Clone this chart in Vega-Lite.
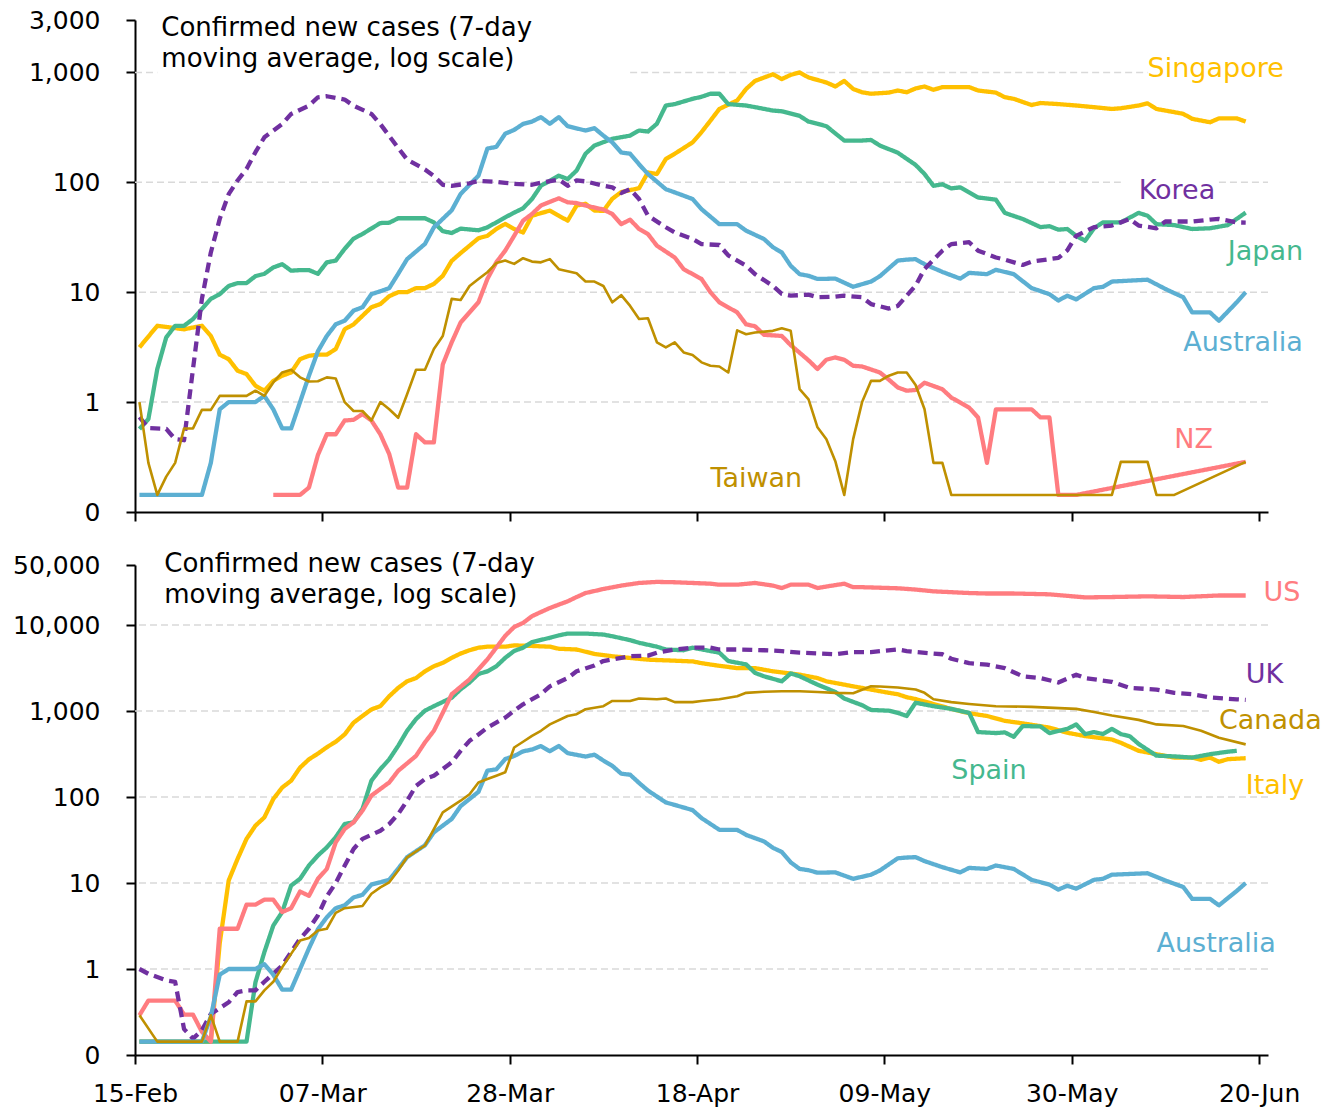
{
"$schema": "https://vega.github.io/schema/vega-lite/v6.json",
"padding": {"left": 12, "top": 8, "right": 5, "bottom": 5},
"background": "white",
"spacing": 53,
"bounds": "flush",
"config": {
 "view": {"stroke": null},
 "font": "DejaVu Sans",
 "axis": {"domainColor": "#000", "domainWidth": 2, "tickColor": "#000", "tickWidth": 2, "tickSize": 9, "labelFont": "DejaVu Sans", "labelFontSize": 25, "labelColor": "#000", "grid": false, "labelFlush": false, "labelOverlap": false, "labelBound": false},
 "axisY": {"labelPadding": 26},
 "axisX": {"labelPadding": 17},
 "line": {"strokeJoin": "round", "strokeCap": "butt"}
},
"datasets": {
 "cases": [
{"d":"2020-02-15","SG":3.15,"JP":0.57,"AU":0.143,"TW":1,"KR":0.73,"US":0.29,"UK":1,"CA":0.29,"IT":0.143,"ES":0.143},
{"d":"2020-02-16","JP":0.7,"TW":0.28,"KR":0.58,"US":0.43,"UK":0.88},
{"d":"2020-02-17","SG":4.95,"JP":2,"TW":0.143,"CA":0.143},
{"d":"2020-02-18","JP":3.88,"TW":0.21,"KR":0.57,"UK":0.74},
{"d":"2020-02-19","JP":4.95,"TW":0.28,"KR":0.46,"US":0.43,"UK":0.71},
{"d":"2020-02-20","SG":4.6,"JP":4.95,"TW":0.576,"KR":0.45,"US":0.295,"UK":0.2},
{"d":"2020-02-21","JP":5.7,"TW":0.576,"KR":2,"US":0.295,"UK":0.155},
{"d":"2020-02-22","SG":4.95,"AU":0.143,"TW":0.85,"KR":8.7,"US":0.186,"UK":0.194,"CA":0.143},
{"d":"2020-02-23","SG":4,"JP":8.7,"AU":0.28,"TW":0.85,"KR":23,"US":0.143,"UK":0.3,"CA":0.29,"IT":0.143},
{"d":"2020-02-24","SG":2.7,"JP":9.6,"AU":0.86,"TW":1.14,"KR":46.5,"US":2.94,"CA":0.143,"IT":2},
{"d":"2020-02-25","SG":2.46,"JP":11.4,"AU":1,"KR":78,"UK":0.41,"IT":10.7},
{"d":"2020-02-26","SG":1.93,"JP":12.1,"KR":104,"US":2.94,"UK":0.54,"CA":0.143,"IT":19.1},
{"d":"2020-02-27","SG":1.8,"JP":12.1,"TW":1.14,"KR":132,"US":5.6,"UK":0.565,"CA":0.42,"IT":32.6,"ES":0.143},
{"d":"2020-02-28","SG":1.41,"JP":14,"AU":1,"TW":1.27,"KR":188,"US":5.6,"UK":0.565,"CA":0.42,"IT":46.5,"ES":0.7},
{"d":"2020-02-29","SG":1.27,"JP":14.7,"AU":1.14,"TW":1.14,"KR":257,"US":6.4,"UK":0.71,"CA":0.565,"IT":58,"ES":1.57},
{"d":"2020-03-01","SG":1.56,"JP":16.8,"AU":0.86,"NZ":0.143,"TW":1.51,"US":6.4,"CA":0.71,"IT":94.8,"ES":3.2},
{"d":"2020-03-02","SG":1.74,"JP":18,"AU":0.576,"TW":1.86,"KR":339,"US":4.6,"UK":1.1,"CA":1.05,"IT":129,"ES":4.6},
{"d":"2020-03-03","SG":1.86,"JP":15.7,"AU":0.576,"TW":1.97,"KR":419,"US":5.1,"UK":1.57,"CA":1.5,"IT":155,"ES":9.35},
{"d":"2020-03-04","SG":2.46,"JP":15.9,"AU":1,"NZ":0.143,"TW":1.68,"US":7.96,"UK":2.25,"CA":2.15,"IT":220,"ES":11.2},
{"d":"2020-03-05","SG":2.64,"JP":15.9,"AU":1.74,"NZ":0.167,"TW":1.54,"KR":498,"US":7.1,"UK":2.94,"CA":2.29,"IT":275,"ES":16},
{"d":"2020-03-06","SG":2.7,"JP":14.7,"AU":2.9,"NZ":0.33,"TW":1.55,"KR":594,"US":11.2,"UK":4.2,"CA":2.81,"IT":320,"ES":20.9},
{"d":"2020-03-07","SG":2.7,"JP":18.7,"AU":4,"NZ":0.51,"TW":1.68,"KR":607,"US":14.6,"UK":7,"CA":2.94,"IT":380,"ES":26},
{"d":"2020-03-08","SG":3.04,"JP":19.4,"AU":5.1,"NZ":0.51,"TW":1.64,"US":29.7,"UK":10,"CA":4.5,"IT":440,"ES":34.1},
{"d":"2020-03-09","SG":4.6,"JP":24.8,"AU":5.5,"NZ":0.68,"TW":1,"KR":566,"US":42.5,"UK":15.9,"CA":5.1,"IT":535,"ES":48.6},
{"d":"2020-03-10","SG":5.1,"JP":30.7,"AU":6.8,"NZ":0.69,"TW":0.83,"KR":498,"US":50.9,"UK":24.9,"IT":733,"ES":50.9},
{"d":"2020-03-11","SG":6.1,"JP":33.9,"AU":7.3,"NZ":0.78,"TW":0.83,"US":69.5,"UK":32.6,"CA":5.4,"IT":877,"ES":72.8},
{"d":"2020-03-12","SG":7.3,"AU":9.6,"NZ":0.68,"TW":0.68,"KR":419,"US":104,"CA":7.5,"IT":1046,"ES":155},
{"d":"2020-03-13","SG":7.8,"JP":42.6,"AU":10.2,"NZ":0.51,"TW":1,"KR":339,"UK":40.6,"CA":8.9,"IT":1140,"ES":211},
{"d":"2020-03-14","SG":9.2,"JP":42.9,"AU":10.9,"NZ":0.336,"TW":0.86,"KR":264,"US":148,"UK":48.6,"CA":10.2,"IT":1490,"ES":275},
{"d":"2020-03-15","SG":10,"JP":47.1,"AU":14.7,"NZ":0.167,"TW":0.72,"KR":206,"US":202,"UK":63.4,"CA":14,"IT":1860,"ES":394},
{"d":"2020-03-16","SG":10,"AU":20,"NZ":0.167,"TW":1.18,"KR":161,"UK":90.7,"CA":19.9,"IT":2220,"ES":590},
{"d":"2020-03-17","SG":10.9,"JP":47.1,"NZ":0.51,"TW":1.97,"US":301,"UK":135,"IT":2420,"ES":806},
{"d":"2020-03-18","SG":10.9,"JP":47.1,"AU":27.5,"NZ":0.43,"TW":1.97,"KR":131,"US":432,"UK":162,"CA":27.3,"IT":2900,"ES":1010},
{"d":"2020-03-19","SG":11.9,"JP":43.2,"AU":38.9,"NZ":0.43,"TW":3.04,"KR":114,"US":590,"UK":177,"CA":42.5,"IT":3320,"ES":1140},
{"d":"2020-03-20","SG":14.1,"JP":35.9,"NZ":2.2,"TW":4,"KR":95,"US":956,"CA":66.4,"IT":3640},
{"d":"2020-03-21","SG":19.3,"JP":34.6,"AU":55.6,"NZ":3.5,"TW":8.7,"KR":93,"US":1570,"UK":253,"IT":4160,"ES":1430},
{"d":"2020-03-22","SG":22.7,"JP":37.9,"AU":78.4,"NZ":5.3,"TW":8.5,"UK":345,"CA":90.7,"IT":4670,"ES":1790},
{"d":"2020-03-23","SG":26.5,"TW":11.4,"KR":98,"US":2340,"UK":451,"CA":108,"IT":5100,"ES":2150},
{"d":"2020-03-24","SG":31,"JP":36.6,"AU":115,"NZ":8.1,"TW":13.2,"KR":103,"US":3060,"UK":535,"CA":148,"IT":5460,"ES":2700},
{"d":"2020-03-25","SG":32.6,"JP":38.9,"AU":203,"NZ":13.2,"TW":15.2,"US":3990,"UK":642,"CA":162,"IT":5610,"ES":2900},
{"d":"2020-03-26","SG":37.6,"JP":43.2,"AU":210,"NZ":18.7,"TW":18.4,"KR":101,"US":5460,"CA":177,"ES":3320},
{"d":"2020-03-27","SG":41.8,"JP":48,"AU":277,"NZ":23.9,"TW":19.4,"KR":99,"US":7500,"UK":840,"CA":194,"IT":5610,"ES":4160},
{"d":"2020-03-28","SG":37.6,"JP":53,"AU":300,"NZ":32.6,"TW":18.1,"KR":97,"US":9500,"UK":1010,"CA":377,"IT":5810,"ES":5000},
{"d":"2020-03-29","SG":35,"JP":58,"AU":340,"NZ":44.8,"TW":20.4,"US":10600,"UK":1200,"CA":440,"ES":5460},
{"d":"2020-03-30","SG":49.7,"JP":70.5,"AU":357,"NZ":51.5,"TW":19,"KR":95,"US":12700,"CA":515,"IT":5720,"ES":6340},
{"d":"2020-03-31","JP":93,"AU":392,"NZ":61.5,"TW":18.7,"KR":99,"US":14200,"UK":1570,"CA":590},
{"d":"2020-04-01","SG":55.3,"AU":341,"TW":20,"US":15800,"UK":1940,"CA":700,"IT":5610,"ES":7120},
{"d":"2020-04-02","SG":49.7,"JP":115,"AU":392,"NZ":71.5,"TW":16.2,"KR":106,"US":17300,"IT":5310,"ES":7590},
{"d":"2020-04-03","SG":44.8,"JP":107,"AU":324,"NZ":65.8,"KR":93,"US":18900,"UK":2420,"CA":877,"ES":7970},
{"d":"2020-04-04","SG":61.5,"JP":128,"NZ":64.8,"TW":14.9,"KR":104,"US":21200,"UK":2900,"CA":920,"IT":5200},
{"d":"2020-04-05","SG":63.8,"JP":182,"AU":296,"NZ":61.5,"TW":12.5,"KR":102,"US":23600,"CA":1050,"ES":7970},
{"d":"2020-04-06","SG":55.3,"JP":216,"AU":311,"TW":12.5,"UK":3390,"IT":4620},
{"d":"2020-04-07","SG":55,"AU":266,"NZ":56.5,"TW":11.4,"KR":93,"US":26300,"UK":3820,"CA":1140,"ES":7760},
{"d":"2020-04-08","SG":70.8,"JP":249,"AU":231,"NZ":51.5,"TW":8.1,"KR":90,"CA":1310,"IT":4340,"ES":7420},
{"d":"2020-04-09","SG":81.5,"AU":187,"NZ":41.6,"TW":9.4,"KR":80,"US":28800,"UK":4160},
{"d":"2020-04-10","JP":266,"AU":182,"NZ":45.7,"TW":7.5,"KR":86.6,"UK":4340,"CA":1310,"IT":4150,"ES":6680},
{"d":"2020-04-11","SG":88.4,"JP":296,"AU":146,"NZ":37.6,"TW":5.7,"KR":70.5,"US":30900,"CA":1400,"ES":6230},
{"d":"2020-04-12","SG":123,"JP":290,"AU":119,"NZ":33.8,"TW":5.8,"KR":49.7,"UK":4420,"IT":3960},
{"d":"2020-04-13","SG":119,"JP":341,"NZ":26.5,"TW":3.5,"US":31800,"UK":4780,"CA":1370,"ES":5610},
{"d":"2020-04-14","SG":163,"JP":500,"AU":86.6,"TW":3.15,"KR":39,"CA":1400,"IT":3890,"ES":5200},
{"d":"2020-04-15","SG":182,"JP":515,"AU":81,"NZ":20.7,"TW":3.5,"KR":35,"US":31500,"UK":5200,"CA":1270},
{"d":"2020-04-16","NZ":16.2,"TW":2.83,"ES":5100},
{"d":"2020-04-17","SG":231,"JP":575,"AU":70.5,"TW":2.68,"KR":30.5,"US":30900,"UK":5460,"CA":1270,"IT":3780,"ES":5460},
{"d":"2020-04-18","SG":286,"JP":600,"AU":57,"NZ":13.2,"TW":2.3,"KR":27.4,"CA":1310,"IT":3610},
{"d":"2020-04-19","SG":364,"JP":640,"NZ":10,"TW":2.14,"US":30300,"UK":5460,"ES":4990},
{"d":"2020-04-20","SG":465,"JP":640,"AU":41.6,"NZ":8.1,"TW":2.11,"KR":26.9,"US":29500,"UK":5200,"CA":1370,"IT":3360,"ES":4780},
{"d":"2020-04-21","JP":515,"TW":1.86,"KR":21.6,"ES":3820},
{"d":"2020-04-22","SG":556,"AU":41.6,"NZ":6.55,"TW":4.5,"US":29500,"UK":5200,"CA":1490,"IT":3160},
{"d":"2020-04-23","SG":707,"JP":500,"AU":36.3,"NZ":5.1,"TW":4.15,"KR":17.4,"CA":1630,"ES":3490},
{"d":"2020-04-24","SG":837,"JP":483,"NZ":4.9,"TW":4.3,"KR":14.6,"US":30900,"IT":3160,"ES":2780},
{"d":"2020-04-25","AU":30.5,"NZ":4.1,"UK":5100,"CA":1680,"ES":2540},
{"d":"2020-04-26","SG":962,"JP":450,"AU":25.7,"TW":4.45,"KR":11.4,"US":28800,"IT":2900},
{"d":"2020-04-27","SG":870,"JP":443,"AU":23,"NZ":4,"TW":4.7,"KR":9.65,"US":27000,"UK":4990,"CA":1700,"ES":2220},
{"d":"2020-04-28","SG":950,"AU":17.4,"NZ":3.3,"TW":4.45,"KR":9.3,"US":29500,"ES":2740},
{"d":"2020-04-29","SG":1000,"JP":402,"AU":14.6,"TW":1.31,"UK":4780,"CA":1700,"IT":2650,"ES":2540},
{"d":"2020-04-30","SG":900,"JP":357,"AU":14.1,"NZ":2.4,"TW":1.06,"KR":9.5,"US":29500},
{"d":"2020-05-01","JP":341,"AU":13.2,"NZ":2,"TW":0.59,"KR":9,"US":27000,"UK":4690,"CA":1670,"IT":2420,"ES":2030},
{"d":"2020-05-02","SG":810,"JP":324,"NZ":2.43,"TW":0.46,"US":28100,"IT":2220},
{"d":"2020-05-03","SG":745,"AU":13.3,"NZ":2.55,"TW":0.29,"KR":9.1,"UK":4580,"CA":1630,"ES":1670},
{"d":"2020-05-04","SG":837,"JP":240,"NZ":2.43,"TW":0.143,"KR":9.3,"US":30300,"IT":2030,"ES":1400},
{"d":"2020-05-05","SG":707,"AU":11.2,"NZ":2.14,"TW":0.46,"US":27600,"UK":4860,"CA":1610,"IT":1940},
{"d":"2020-05-06","SG":660,"JP":240,"NZ":2.11,"TW":1,"KR":9,"US":27600,"ES":1170},
{"d":"2020-05-07","SG":640,"JP":243,"AU":12.5,"TW":1.56,"KR":7.8,"UK":4860,"CA":1940,"IT":1780,"ES":1030},
{"d":"2020-05-08","JP":216,"AU":14,"NZ":1.86,"TW":1.56,"US":27200,"CA":1930},
{"d":"2020-05-09","SG":655,"AU":16.5,"NZ":1.6,"TW":1.74,"KR":7.1,"IT":1630,"ES":1010},
{"d":"2020-05-10","SG":685,"JP":186,"AU":19.4,"NZ":1.36,"TW":1.86,"KR":7.5,"US":26800,"UK":5200,"CA":1880,"IT":1570,"ES":954},
{"d":"2020-05-11","SG":660,"AU":19.8,"NZ":1.27,"TW":1.86,"KR":9.3,"UK":4990,"IT":1450,"ES":877},
{"d":"2020-05-12","SG":715,"JP":144,"AU":20,"NZ":1.29,"TW":1.43,"KR":11.5,"US":25900,"UK":4860,"CA":1780,"IT":1380,"ES":1250},
{"d":"2020-05-13","SG":745,"JP":119,"AU":18,"NZ":1.5,"TW":0.86,"KR":16.3,"CA":1630},
{"d":"2020-05-14","SG":695,"JP":93,"TW":0.28,"US":24700,"CA":1370,"IT":1210,"ES":1140},
{"d":"2020-05-15","SG":735,"JP":96,"AU":15.3,"NZ":1.31,"TW":0.28,"KR":23.9,"UK":4580},
{"d":"2020-05-16","JP":88,"NZ":1.1,"TW":0.143,"KR":27.4,"UK":4060,"CA":1270,"IT":1060,"ES":1060},
{"d":"2020-05-17","JP":90,"AU":13.3},
{"d":"2020-05-18","SG":735,"AU":15,"NZ":0.89,"KR":28.5,"US":23600,"UK":3610,"CA":1210,"IT":945,"ES":954},
{"d":"2020-05-19","SG":685,"JP":72.8,"NZ":0.725,"KR":23.9,"ES":570},
{"d":"2020-05-20","AU":14.6,"NZ":0.28,"US":23300,"UK":3470,"IT":877},
{"d":"2020-05-21","SG":655,"JP":69.5,"AU":16,"NZ":0.86,"KR":20.7,"CA":1140,"ES":555},
{"d":"2020-05-22","SG":595,"JP":52.7,"KR":19.8,"UK":3160,"IT":770,"ES":565},
{"d":"2020-05-23","SG":575,"AU":14.6,"US":23300,"ES":502},
{"d":"2020-05-24","JP":46.4,"KR":17.7,"UK":2540,"IT":720,"ES":670},
{"d":"2020-05-25","SG":505,"AU":10.9,"NZ":0.86,"KR":19,"CA":1120},
{"d":"2020-05-26","SG":527,"JP":39.1,"NZ":0.725,"UK":2420,"ES":662},
{"d":"2020-05-27","JP":39.9,"AU":9.6,"NZ":0.725,"KR":20,"US":22800,"IT":642,"ES":555},
{"d":"2020-05-28","SG":515,"JP":37.1,"AU":8.4,"NZ":0.143,"KR":20.5,"UK":2150},
{"d":"2020-05-29","JP":37.6,"AU":9.3,"KR":24,"IT":560,"ES":620},
{"d":"2020-05-30","SG":500,"JP":32.6,"AU":8.6,"NZ":0.143,"KR":32.6,"UK":2650,"CA":1060,"ES":700},
{"d":"2020-05-31","JP":29.4,"US":21000,"UK":2420,"IT":512,"ES":540},
{"d":"2020-06-01","SG":483,"JP":38.2,"AU":10.9,"KR":39.1,"CA":975,"ES":570},
{"d":"2020-06-02","JP":43.2,"AU":11.2,"ES":540},
{"d":"2020-06-03","SG":465,"AU":12.5,"TW":0.143,"KR":40.4,"US":21200,"UK":2190,"CA":890,"IT":467,"ES":620},
{"d":"2020-06-04","SG":472,"JP":43.2,"TW":0.286,"KR":43.2,"IT":428,"ES":540},
{"d":"2020-06-05","KR":46.4,"UK":1860,"ES":510},
{"d":"2020-06-06","SG":500,"JP":52.7,"KR":40.4,"CA":790,"IT":345,"ES":415},
{"d":"2020-06-07","SG":523,"JP":49.7,"AU":13,"TW":0.286,"US":21600},
{"d":"2020-06-08","SG":465,"JP":41.6,"TW":0.143,"KR":38.2,"UK":1780,"CA":700,"IT":315,"ES":303},
{"d":"2020-06-09","AU":10.7,"KR":44},
{"d":"2020-06-10","SG":435,"JP":40.8,"AU":9.8,"TW":0.143,"UK":1630,"IT":288,"ES":297},
{"d":"2020-06-11","SG":420,"AU":9,"US":21200,"CA":670},
{"d":"2020-06-12","SG":378,"JP":37.6,"AU":6.55,"KR":44,"UK":1570,"IT":288,"ES":288},
{"d":"2020-06-13","CA":590,"IT":271},
{"d":"2020-06-14","SG":352,"JP":38.2,"AU":6.55,"KR":45.8,"UK":1440,"IT":288,"ES":315},
{"d":"2020-06-15","SG":382,"AU":5.5,"KR":46.4,"US":22100,"CA":490,"IT":257},
{"d":"2020-06-16","JP":40.8,"IT":276,"ES":337},
{"d":"2020-06-17","SG":382,"AU":8.1,"KR":43.2,"UK":1370,"ES":345},
{"d":"2020-06-18","SG":357,"JP":53,"AU":10,"NZ":0.286,"TW":0.286,"KR":43,"US":22100,"UK":1350,"CA":410,"IT":283}
 ],
 "gridTopFull": [{"v": 1}, {"v": 10}],
 "gridTopPart": [
  {"v": 100, "a": "2020-02-14T12:00:00Z", "b": "2020-06-04"},
  {"v": 100, "a": "2020-06-15", "b": "2020-06-20T12:00:00Z"},
  {"v": 1000, "a": "2020-02-14T12:00:00Z", "b": "2020-02-17"},
  {"v": 1000, "a": "2020-04-10", "b": "2020-06-07"}
 ],
 "gridBotFull": [{"v": 1}, {"v": 10}, {"v": 100}, {"v": 10000}],
 "gridBotPart": [{"v": 1000, "a": "2020-02-14T12:00:00Z", "b": "2020-06-14"}],
 "labelsTop": [
  {"c": "SG", "name": "Singapore", "d": "2020-06-07", "v": 1065},
  {"c": "KR", "name": "Korea", "d": "2020-06-06", "v": 82.8},
  {"c": "JP", "name": "Japan", "d": "2020-06-16", "v": 23.1},
  {"c": "AU", "name": "Australia", "d": "2020-06-11", "v": 3.44},
  {"c": "NZ", "name": "NZ", "d": "2020-06-10", "v": 0.451},
  {"c": "TW", "name": "Taiwan", "d": "2020-04-19", "v": 0.2}
 ],
 "labelsBot": [
  {"c": "US", "name": "US", "d": "2020-06-20", "v": 23560},
  {"c": "UK", "name": "UK", "d": "2020-06-18", "v": 2622},
  {"c": "CA", "name": "Canada", "d": "2020-06-15", "v": 765},
  {"c": "ES", "name": "Spain", "d": "2020-05-16", "v": 200},
  {"c": "IT", "name": "Italy", "d": "2020-06-18", "v": 134},
  {"c": "AU", "name": "Australia", "d": "2020-06-08", "v": 1.95}
 ],
 "titleTop": [{"d": "2020-02-17", "v": 2125, "t": "Confirmed new cases (7-day\nmoving average, log scale)"}],
 "titleBot": [{"d": "2020-02-18", "v": 41300, "t": "Confirmed new cases (7-day\nmoving average, log scale)"}]
},
"vconcat": [
 {
  "width": 1133,
  "height": 492,
  "layer": [
   {
    "data": {"name": "gridTopFull"},
    "mark": {"type": "rule", "color": "#D9D9D9", "strokeWidth": 1.5, "strokeDash": [7, 4]},
    "encoding": {"y": {"field": "v", "type": "quantitative", "title": null, "scale": {"type": "log", "domain": [0.1, 3000], "nice": false}}}
   },
   {
    "data": {"name": "gridTopPart"},
    "mark": {"type": "rule", "color": "#D9D9D9", "strokeWidth": 1.5, "strokeDash": [7, 4]},
    "encoding": {
     "x": {"field": "a", "type": "temporal", "title": null, "scale": {"type": "utc", "domain": [{"year": 2020, "month": 2, "date": 14, "hours": 12, "utc": true}, {"year": 2020, "month": 6, "date": 20, "hours": 12, "utc": true}]}},
     "x2": {"field": "b"},
     "y": {"field": "v", "type": "quantitative", "title": null, "scale": {"type": "log", "domain": [0.1, 3000], "nice": false}}
    }
   },
   {
    "data": {"name": "cases"},
    "transform": [{"fold": ["SG", "JP", "AU", "NZ", "KR"], "as": ["c", "v"]}, {"filter": "isValid(datum.v)"}],
    "mark": {"type": "line", "strokeWidth": 4.3},
    "encoding": {
     "x": {"field": "d", "type": "temporal", "title": null, "scale": {"type": "utc", "domain": [{"year": 2020, "month": 2, "date": 14, "hours": 12, "utc": true}, {"year": 2020, "month": 6, "date": 20, "hours": 12, "utc": true}]},
      "axis": {"labels": false, "values": [{"year": 2020, "month": 2, "date": 14, "hours": 12, "utc": true}, {"year": 2020, "month": 3, "date": 6, "hours": 12, "utc": true}, {"year": 2020, "month": 3, "date": 27, "hours": 12, "utc": true}, {"year": 2020, "month": 4, "date": 17, "hours": 12, "utc": true}, {"year": 2020, "month": 5, "date": 8, "hours": 12, "utc": true}, {"year": 2020, "month": 5, "date": 29, "hours": 12, "utc": true}, {"year": 2020, "month": 6, "date": 19, "hours": 12, "utc": true}]}},
     "y": {"field": "v", "type": "quantitative", "title": null, "scale": {"type": "log", "domain": [0.1, 3000], "nice": false},
      "axis": {"values": [0.1, 1, 10, 100, 1000, 3000], "labelExpr": "datum.value < 0.5 ? '0' : format(datum.value, ',')"}},
     "color": {"field": "c", "type": "nominal", "legend": null, "scale": {"domain": ["SG", "JP", "AU", "NZ", "TW", "KR", "US", "UK", "CA", "IT", "ES"], "range": ["#FFC000", "#45B88E", "#5CAFD2", "#FF7C80", "#BF9000", "#7030A0", "#FF7C80", "#7030A0", "#BF9000", "#FFC000", "#45B88E"]}},
     "strokeDash": {"field": "c", "type": "nominal", "legend": null, "scale": {"domain": ["SG", "JP", "AU", "NZ", "TW", "KR", "US", "UK", "CA", "IT", "ES"], "range": [[1, 0], [1, 0], [1, 0], [1, 0], [1, 0], [10, 6], [1, 0], [10, 6], [1, 0], [1, 0], [1, 0]]}}
    }
   },
   {
    "data": {"name": "cases"},
    "transform": [{"fold": ["TW"], "as": ["c", "v"]}, {"filter": "isValid(datum.v)"}],
    "mark": {"type": "line", "strokeWidth": 2.6},
    "encoding": {
     "x": {"field": "d", "type": "temporal", "title": null, "scale": {"type": "utc", "domain": [{"year": 2020, "month": 2, "date": 14, "hours": 12, "utc": true}, {"year": 2020, "month": 6, "date": 20, "hours": 12, "utc": true}]}},
     "y": {"field": "v", "type": "quantitative", "title": null, "scale": {"type": "log", "domain": [0.1, 3000], "nice": false}},
     "color": {"field": "c", "type": "nominal", "legend": null, "scale": {"domain": ["SG", "JP", "AU", "NZ", "TW", "KR", "US", "UK", "CA", "IT", "ES"], "range": ["#FFC000", "#45B88E", "#5CAFD2", "#FF7C80", "#BF9000", "#7030A0", "#FF7C80", "#7030A0", "#BF9000", "#FFC000", "#45B88E"]}}
    }
   },
   {
    "data": {"name": "labelsTop"},
    "mark": {"type": "text", "align": "left", "baseline": "middle", "fontSize": 27, "font": "DejaVu Sans"},
    "encoding": {
     "x": {"field": "d", "type": "temporal", "title": null, "scale": {"type": "utc", "domain": [{"year": 2020, "month": 2, "date": 14, "hours": 12, "utc": true}, {"year": 2020, "month": 6, "date": 20, "hours": 12, "utc": true}]}},
     "y": {"field": "v", "type": "quantitative", "title": null, "scale": {"type": "log", "domain": [0.1, 3000], "nice": false}},
     "color": {"field": "c", "type": "nominal", "legend": null, "scale": {"domain": ["SG", "JP", "AU", "NZ", "TW", "KR", "US", "UK", "CA", "IT", "ES"], "range": ["#FFC000", "#45B88E", "#5CAFD2", "#FF7C80", "#BF9000", "#7030A0", "#FF7C80", "#7030A0", "#BF9000", "#FFC000", "#45B88E"]}},
     "text": {"field": "name"}
    }
   },
   {
    "data": {"name": "titleTop"},
    "mark": {"type": "text", "align": "left", "baseline": "alphabetic", "fontSize": 26, "font": "DejaVu Sans", "lineHeight": 31, "lineBreak": "\n", "color": "#000", "dx": 4},
    "encoding": {
     "x": {"field": "d", "type": "temporal", "title": null, "scale": {"type": "utc", "domain": [{"year": 2020, "month": 2, "date": 14, "hours": 12, "utc": true}, {"year": 2020, "month": 6, "date": 20, "hours": 12, "utc": true}]}},
     "y": {"field": "v", "type": "quantitative", "title": null, "scale": {"type": "log", "domain": [0.1, 3000], "nice": false}},
     "text": {"field": "t"}
    }
   }
  ]
 },
 {
  "width": 1133,
  "height": 490,
  "layer": [
   {
    "data": {"name": "gridBotFull"},
    "mark": {"type": "rule", "color": "#D9D9D9", "strokeWidth": 1.5, "strokeDash": [7, 4]},
    "encoding": {"y": {"field": "v", "type": "quantitative", "title": null, "scale": {"type": "log", "domain": [0.1, 50000], "nice": false}}}
   },
   {
    "data": {"name": "gridBotPart"},
    "mark": {"type": "rule", "color": "#D9D9D9", "strokeWidth": 1.5, "strokeDash": [7, 4]},
    "encoding": {
     "x": {"field": "a", "type": "temporal", "title": null, "scale": {"type": "utc", "domain": [{"year": 2020, "month": 2, "date": 14, "hours": 12, "utc": true}, {"year": 2020, "month": 6, "date": 20, "hours": 12, "utc": true}]}},
     "x2": {"field": "b"},
     "y": {"field": "v", "type": "quantitative", "title": null, "scale": {"type": "log", "domain": [0.1, 50000], "nice": false}}
    }
   },
   {
    "data": {"name": "cases"},
    "transform": [{"fold": ["IT", "ES", "US", "UK", "AU"], "as": ["c", "v"]}, {"filter": "isValid(datum.v)"}],
    "mark": {"type": "line", "strokeWidth": 4.3},
    "encoding": {
     "x": {"field": "d", "type": "temporal", "title": null, "scale": {"type": "utc", "domain": [{"year": 2020, "month": 2, "date": 14, "hours": 12, "utc": true}, {"year": 2020, "month": 6, "date": 20, "hours": 12, "utc": true}]},
      "axis": {"labelExpr": "utcFormat(datum.value + 43200000, '%d-%b')", "values": [{"year": 2020, "month": 2, "date": 14, "hours": 12, "utc": true}, {"year": 2020, "month": 3, "date": 6, "hours": 12, "utc": true}, {"year": 2020, "month": 3, "date": 27, "hours": 12, "utc": true}, {"year": 2020, "month": 4, "date": 17, "hours": 12, "utc": true}, {"year": 2020, "month": 5, "date": 8, "hours": 12, "utc": true}, {"year": 2020, "month": 5, "date": 29, "hours": 12, "utc": true}, {"year": 2020, "month": 6, "date": 19, "hours": 12, "utc": true}]}},
     "y": {"field": "v", "type": "quantitative", "title": null, "scale": {"type": "log", "domain": [0.1, 50000], "nice": false},
      "axis": {"values": [0.1, 1, 10, 100, 1000, 10000, 50000], "labelExpr": "datum.value < 0.5 ? '0' : format(datum.value, ',')"}},
     "color": {"field": "c", "type": "nominal", "legend": null, "scale": {"domain": ["SG", "JP", "AU", "NZ", "TW", "KR", "US", "UK", "CA", "IT", "ES"], "range": ["#FFC000", "#45B88E", "#5CAFD2", "#FF7C80", "#BF9000", "#7030A0", "#FF7C80", "#7030A0", "#BF9000", "#FFC000", "#45B88E"]}},
     "strokeDash": {"field": "c", "type": "nominal", "legend": null, "scale": {"domain": ["SG", "JP", "AU", "NZ", "TW", "KR", "US", "UK", "CA", "IT", "ES"], "range": [[1, 0], [1, 0], [1, 0], [1, 0], [1, 0], [10, 6], [1, 0], [10, 6], [1, 0], [1, 0], [1, 0]]}}
    }
   },
   {
    "data": {"name": "cases"},
    "transform": [{"fold": ["CA"], "as": ["c", "v"]}, {"filter": "isValid(datum.v)"}],
    "mark": {"type": "line", "strokeWidth": 2.6},
    "encoding": {
     "x": {"field": "d", "type": "temporal", "title": null, "scale": {"type": "utc", "domain": [{"year": 2020, "month": 2, "date": 14, "hours": 12, "utc": true}, {"year": 2020, "month": 6, "date": 20, "hours": 12, "utc": true}]}},
     "y": {"field": "v", "type": "quantitative", "title": null, "scale": {"type": "log", "domain": [0.1, 50000], "nice": false}},
     "color": {"field": "c", "type": "nominal", "legend": null, "scale": {"domain": ["SG", "JP", "AU", "NZ", "TW", "KR", "US", "UK", "CA", "IT", "ES"], "range": ["#FFC000", "#45B88E", "#5CAFD2", "#FF7C80", "#BF9000", "#7030A0", "#FF7C80", "#7030A0", "#BF9000", "#FFC000", "#45B88E"]}}
    }
   },
   {
    "data": {"name": "labelsBot"},
    "mark": {"type": "text", "align": "left", "baseline": "middle", "fontSize": 27, "font": "DejaVu Sans"},
    "encoding": {
     "x": {"field": "d", "type": "temporal", "title": null, "scale": {"type": "utc", "domain": [{"year": 2020, "month": 2, "date": 14, "hours": 12, "utc": true}, {"year": 2020, "month": 6, "date": 20, "hours": 12, "utc": true}]}},
     "y": {"field": "v", "type": "quantitative", "title": null, "scale": {"type": "log", "domain": [0.1, 50000], "nice": false}},
     "color": {"field": "c", "type": "nominal", "legend": null, "scale": {"domain": ["SG", "JP", "AU", "NZ", "TW", "KR", "US", "UK", "CA", "IT", "ES"], "range": ["#FFC000", "#45B88E", "#5CAFD2", "#FF7C80", "#BF9000", "#7030A0", "#FF7C80", "#7030A0", "#BF9000", "#FFC000", "#45B88E"]}},
     "text": {"field": "name"}
    }
   },
   {
    "data": {"name": "titleBot"},
    "mark": {"type": "text", "align": "left", "baseline": "alphabetic", "fontSize": 26, "font": "DejaVu Sans", "lineHeight": 31, "lineBreak": "\n", "color": "#000", "dx": -2},
    "encoding": {
     "x": {"field": "d", "type": "temporal", "title": null, "scale": {"type": "utc", "domain": [{"year": 2020, "month": 2, "date": 14, "hours": 12, "utc": true}, {"year": 2020, "month": 6, "date": 20, "hours": 12, "utc": true}]}},
     "y": {"field": "v", "type": "quantitative", "title": null, "scale": {"type": "log", "domain": [0.1, 50000], "nice": false}},
     "text": {"field": "t"}
    }
   }
  ]
 }
]
}
